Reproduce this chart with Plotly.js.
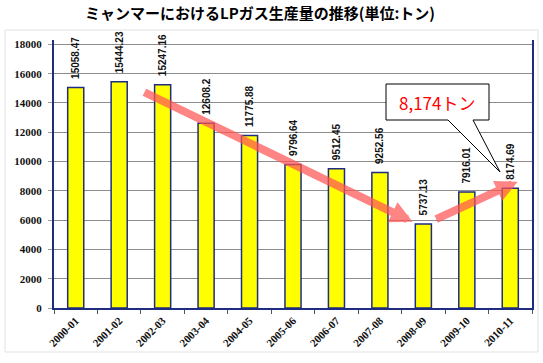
<!DOCTYPE html>
<html>
<head>
<meta charset="utf-8">
<script src="https://cdn.plot.ly/plotly-3.0.1.min.js"></script>
<style>html,body{margin:0;padding:0;background:#fff;}#chart{width:543px;height:363px;}</style>
</head>
<body>
<div id="chart"></div>
<script>
const years = ["2000-01","2001-02","2002-03","2003-04","2004-05","2005-06","2006-07","2007-08","2008-09","2009-10","2010-11"];
const production = [15058.47, 15444.23, 15247.16, 12608.2, 11775.88, 9796.64, 9512.45, 9252.56, 5737.13, 7916.01, 8174.69];
const yTicks = [0, 2000, 4000, 6000, 8000, 10000, 12000, 14000, 16000, 18000];
const titleText = "ミャンマーにおけるLPガス生産量の推移(単位:トン)";
const calloutText = "8,174トン";

const navy = "#1f2d80";
const arrowColor = "rgba(255,85,85,0.72)";

const trace = {
  type: "bar",
  x: years,
  y: production,
  text: production.map(v => "\u00a0\u00a0" + String(v)),
  textposition: "outside",
  textangle: -90,
  constraintext: "none",
  cliponaxis: false,
  textfont: {family: "Liberation Sans, Arial, sans-serif", size: 10, color: "#111", weight: "bold"},
  marker: {color: "#ffff00", line: {color: navy, width: 1.5}},
  hoverinfo: "none"
};

// helper: pixel -> paper coords (plot area x 54..532, y 40..308)
const L = 54, R = 532, T = 40, B = 308;
const px = v => (v - L) / (R - L);
const py = v => (B - v) / (B - T);

const calloutPath = "M" + px(386) + "," + py(84) +
  " L" + px(489) + "," + py(84) +
  " L" + px(489) + "," + py(120) +
  " L" + px(473) + "," + py(120) +
  " L" + px(500) + "," + py(172) +
  " L" + px(448) + "," + py(120) +
  " L" + px(386) + "," + py(120) + " Z";

const layout = {
  width: 543,
  height: 363,
  margin: {l: L, r: 543 - R, t: T, b: 363 - B},
  paper_bgcolor: "#ffffff",
  plot_bgcolor: "#ffffff",
  showlegend: false,
  bargap: 0.63,
  title: {
    text: titleText,
    font: {family: "Noto Sans CJK JP, sans-serif", size: 15, color: "#000", weight: "bold"},
    xref: "container", yref: "container",
    x: 260 / 543, xanchor: "center",
    y: 1 - 14 / 363, yanchor: "middle"
  },
  xaxis: {
    type: "category",
    tickangle: -45,
    tickson: "boundaries",
    ticks: "outside",
    ticklen: 4,
    tickcolor: "#555",
    showgrid: false,
    showline: true,
    linecolor: navy,
    linewidth: 2,
    tickfont: {family: "Liberation Serif, Times New Roman, serif", size: 11, color: "#111", weight: "bold"},
    fixedrange: true
  },
  yaxis: {
    range: [0, 18300],
    tickvals: yTicks,
    ticktext: yTicks.map(String),
    ticks: "outside",
    ticklen: 4,
    tickcolor: "#999",
    ticklabelstandoff: 4,
    showgrid: true,
    gridcolor: "#8c8c8c",
    gridwidth: 1,
    zeroline: false,
    showline: true,
    mirror: true,
    linecolor: navy,
    linewidth: 2,
    tickfont: {family: "Liberation Serif, Times New Roman, serif", size: 11, color: "#111", weight: "bold"},
    fixedrange: true
  },
  shapes: [
    {type: "rect", xref: "paper", yref: "paper", x0: px(5), x1: px(538), y0: py(352), y1: py(30),
     line: {color: "#e2e2e2", width: 1}, fillcolor: "rgba(0,0,0,0)", layer: "below"},
    {type: "path", xref: "paper", yref: "paper", path: calloutPath,
     fillcolor: "#ffffff", line: {color: "#000", width: 1}, layer: "above"}
  ],
  annotations: [
    {x: 7.75, y: 5886, ax: 1.546, ay: 14783, xref: "x", yref: "y", axref: "x", ayref: "y",
     showarrow: true, arrowhead: 2, arrowsize: 0.55, arrowwidth: 8, arrowcolor: arrowColor, text: ""},
    {x: 10.17, y: 8624, ax: 8.26, ay: 6023, xref: "x", yref: "y", axref: "x", ayref: "y",
     showarrow: true, arrowhead: 2, arrowsize: 0.55, arrowwidth: 8, arrowcolor: arrowColor, text: ""},
    {x: px(437), y: py(102), xref: "paper", yref: "paper", showarrow: false,
     text: calloutText, xanchor: "center", yanchor: "middle",
     font: {family: "Noto Sans CJK JP, sans-serif", size: 17, color: "#ff0000"}}
  ]
};

Plotly.newPlot("chart", [trace], layout, {staticPlot: true, displayModeBar: false});
</script>
</body>
</html>
